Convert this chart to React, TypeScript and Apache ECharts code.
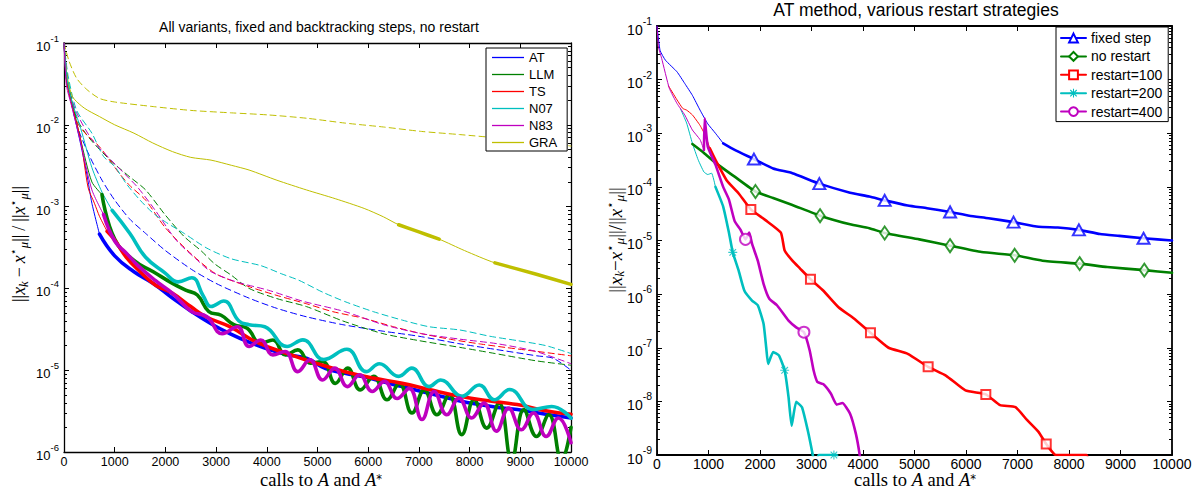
import { useEffect, useRef } from 'react';
import * as echarts from 'echarts';

type Pt = [number, number];

// ---------------- Left panel: all variants ----------------
const leftLegend = ['AT', 'LLM', 'TS', 'N07', 'N83', 'GRA'];
const leftYTicks = [1e-6, 1e-5, 1e-4, 1e-3, 1e-2, 1e-1];
const rightYTicks = [1e-9, 1e-8, 1e-7, 1e-6, 1e-5, 1e-4, 1e-3, 1e-2, 1e-1];

// fixed-step runs (dashed)
const atFix: Pt[] = [[0, 0.1], [80, 0.03], [250, 0.01], [500, 0.0042], [750, 0.0021], [1000, 0.0012], [1300, 7e-4], [1610, 4.7e-4], [2000, 2.9e-4], [2520, 1.7e-4], [3000, 1.15e-4], [3650, 7.6e-5], [4200, 5.7e-5], [4780, 4.5e-5], [5500, 3.6e-5], [6290, 3.0e-5], [7000, 2.6e-5], [7810, 2.1e-5], [8500, 1.8e-5], [9320, 1.5e-5], [9650, 1.4e-5], [10000, 1.0e-5]];
const llmFix: Pt[] = [[0, 0.1], [80, 0.035], [250, 0.012], [450, 0.0075], [700, 0.005], [1000, 0.0033], [1300, 0.0023], [1610, 0.0016], [1990, 8e-4], [2370, 4.3e-4], [2700, 2.9e-4], [2970, 2.0e-4], [3300, 1.45e-4], [3650, 1.0e-4], [4200, 7.5e-5], [4780, 6.0e-5], [5500, 4.0e-5], [6290, 2.8e-5], [7000, 2.3e-5], [7810, 1.9e-5], [8500, 1.6e-5], [9320, 1.3e-5], [10000, 1.15e-5]];
const tsFix: Pt[] = [[0, 0.1], [80, 0.03], [250, 0.011], [450, 0.0075], [700, 0.0054], [1080, 0.0026], [1300, 0.0018], [1610, 0.0012], [2000, 5.5e-4], [2520, 2.6e-4], [3000, 1.5e-4], [3650, 1.05e-4], [4200, 8.2e-5], [4780, 6.5e-5], [5300, 5.2e-5], [5920, 4.3e-5], [6500, 3.4e-5], [7050, 2.8e-5], [7600, 2.4e-5], [8190, 2.1e-5], [8700, 1.9e-5], [9320, 1.7e-5], [10000, 1.5e-5]];
const n07Fix: Pt[] = [[0, 0.1], [80, 0.04], [250, 0.015], [550, 0.0079], [780, 0.0041], [1000, 0.0031], [1230, 0.0019], [1500, 0.0012], [1760, 8.3e-4], [2000, 6.5e-4], [2370, 4.7e-4], [2820, 3.1e-4], [3300, 2.3e-4], [3880, 1.9e-4], [4300, 1.5e-4], [4630, 1.26e-4], [5100, 9e-5], [5540, 6.9e-5], [6100, 5.2e-5], [6670, 4.1e-5], [7200, 3.4e-5], [7810, 3.1e-5], [8400, 2.6e-5], [8940, 2.3e-5], [9500, 2.0e-5], [10000, 1.6e-5]];
const n83Fix: Pt[] = [[0, 0.1], [80, 0.03], [250, 0.014], [550, 0.0066], [930, 0.0037], [1200, 0.0025], [1460, 0.0017], [1800, 9e-4], [2210, 3.9e-4], [2600, 2.3e-4], [2900, 1.6e-4], [3400, 1.2e-4], [4030, 9.5e-5], [4700, 7e-5], [5540, 5.2e-5], [6300, 3.6e-5], [7050, 2.8e-5], [7800, 2.4e-5], [8560, 2.1e-5], [9300, 1.7e-5], [10000, 1.2e-5]];
const graFix: Pt[] = [[0, 0.1], [100, 0.06], [250, 0.037], [450, 0.027], [700, 0.021], [1000, 0.019], [1760, 0.0167], [2500, 0.015], [3300, 0.014], [4030, 0.0132], [4800, 0.012], [5540, 0.0105], [6300, 0.0094], [7050, 0.0083], [7800, 0.0076], [8560, 0.0069], [9300, 0.0062], [10000, 0.0055]];

// backtracking runs (solid)
const atBt: Pt[] = [[0, 0.1], [50, 0.035], [150, 0.018], [300, 0.007], [450, 0.0025], [550, 0.0011], [700, 4.6e-4], [1000, 2.5e-4], [1380, 1.6e-4], [1760, 1.15e-4], [2140, 7.6e-5], [2520, 5.2e-5], [2900, 3.7e-5], [3270, 2.8e-5], [3650, 2.2e-5], [4030, 1.8e-5], [4400, 1.55e-5], [4780, 1.4e-5], [5160, 1.05e-5], [5540, 9.2e-6], [5920, 8.3e-6], [6290, 7.2e-6], [6670, 6.3e-6], [7050, 5.5e-6], [7430, 4.8e-6], [7810, 4.2e-6], [8190, 3.8e-6], [8560, 3.5e-6], [8940, 3.3e-6], [9500, 2.9e-6], [10000, 2.6e-6]];
const llmBt: Pt[] = [[0, 0.1], [50, 0.035], [150, 0.02], [330, 0.0065], [550, 0.002], [750, 1.4e-3], [1000, 4e-4], [1380, 2.2e-4], [1760, 1.6e-4], [2140, 1.15e-4], [2400, 9.5e-5], [2630, 8.3e-5], [2857, 5.2e-5], [3099, 4.7e-5], [3349, 3.6e-5], [3613, 3.25e-5], [3878, 2.13e-5], [4120, 2.34e-5], [4369, 1.54e-5], [4611, 1.77e-5], [4861, 1.22e-5], [5102, 1.28e-5], [5352, 6.9e-6], [5594, 1.06e-5], [5843, 5.75e-6], [6108, 8.4e-6], [6372, 4.35e-6], [6614, 6.9e-6], [6864, 3.0e-6], [7105, 5.75e-6], [7355, 2.85e-6], [7597, 5.0e-6], [7846, 1.63e-6], [8088, 4.35e-6], [8338, 1.96e-6], [8580, 3.96e-6], [8829, 8e-7], [9071, 3.3e-6], [9320, 1.55e-6], [9562, 2.85e-6], [9812, 8e-7], [10000, 2.0e-6]];
const tsBt: Pt[] = [[0, 0.1], [50, 0.035], [150, 0.018], [330, 0.0065], [476, 0.0017], [600, 0.0011], [700, 7.6e-4], [850, 5e-4], [1000, 3.9e-4], [1230, 2.4e-4], [1500, 1.6e-4], [1800, 1.1e-4], [2140, 8.7e-5], [2500, 6.0e-5], [2800, 4.5e-5], [3270, 3.4e-5], [3800, 2.2e-5], [4400, 1.6e-5], [5000, 1.2e-5], [5540, 9.6e-6], [6100, 8.0e-6], [6670, 6.9e-6], [7200, 5.8e-6], [7810, 4.8e-6], [8400, 4.2e-6], [8940, 3.8e-6], [9500, 3.2e-6], [10000, 2.9e-6]];
const n07Bt: Pt[] = [[0, 0.1], [50, 0.04], [150, 0.02], [330, 0.009], [550, 0.003], [750, 0.0015], [950, 9e-4], [1300, 4.7e-4], [1610, 2.4e-4], [1990, 1.55e-4], [2250, 1.2e-4], [2520, 1.35e-4], [2750, 8e-5], [2900, 6e-5], [3150, 7e-5], [3450, 4e-5], [3650, 3.6e-5], [3960, 3.4e-5], [4400, 1.95e-5], [4710, 2.35e-5], [5125, 1.35e-5], [5580, 1.8e-5], [5960, 9.6e-6], [6220, 1.2e-5], [6600, 8.4e-6], [6860, 1.06e-5], [7200, 6.3e-6], [7430, 7.6e-6], [7850, 4.8e-6], [8190, 6.6e-6], [8490, 4.35e-6], [8790, 5.8e-6], [9250, 3.3e-6], [9620, 3.6e-6], [10000, 2.6e-6]];
const n83Bt: Pt[] = [[0, 0.1], [50, 0.03], [150, 0.017], [330, 0.006], [550, 0.0016], [780, 8e-4], [1000, 3.8e-4], [1230, 2.7e-4], [1460, 1.9e-4], [1800, 1.25e-4], [2140, 8.7e-5], [2520, 5.2e-5], [2820, 4.5e-5], [3120, 2.8e-5], [3420, 3.4e-5], [3650, 1.95e-5], [3880, 2.34e-5], [4120, 1.54e-5], [4360, 1.69e-5], [4610, 9.6e-6], [4850, 1.34e-5], [5100, 7.6e-6], [5340, 1.06e-5], [5590, 6.3e-6], [5830, 8.8e-6], [6080, 5.5e-6], [6320, 7.3e-6], [6570, 4.5e-6], [6810, 6.0e-6], [7060, 2.5e-6], [7300, 5.5e-6], [7550, 2.85e-6], [7790, 4.56e-6], [8040, 2.6e-6], [8280, 3.96e-6], [8530, 1.8e-6], [8770, 3.44e-6], [9020, 1.87e-6], [9260, 3.0e-6], [9510, 1.55e-6], [9750, 2.6e-6], [10000, 1.3e-6]];
const graBt: Pt[] = [[0, 0.1], [60, 0.04], [170, 0.022], [400, 0.016], [700, 0.0126], [1000, 0.01], [1380, 0.0079], [1750, 0.006], [2140, 0.0047], [2500, 0.004], [2900, 0.0037], [3300, 0.0032], [3650, 0.0028], [4200, 0.0021], [4780, 0.0016], [5350, 0.00125], [5920, 9.5e-4], [6300, 7.5e-4], [6600, 6.0e-4], [7000, 4.9e-4], [7400, 4.0e-4], [7900, 2.9e-4], [8500, 2.05e-4], [9300, 1.5e-4], [10000, 1.12e-4]];

// where the solid backtracking curves become thick
const leftThickFrom = [700, 750, 850, 950, 780];
const graThickRanges: Pt[] = [[6600, 7400], [8500, 10000]];

// ---------------- Right panel: AT restart strategies ----------------
const rightLegend = ['fixed step', 'no restart', 'restart=100', 'restart=200', 'restart=400'];

const fixedStep: Pt[] = [[0, 0.1], [60, 0.035], [164, 0.023], [388, 0.014], [538, 0.0085], [687, 0.0051], [836, 0.0027], [986, 0.0015], [1135, 0.001], [1285, 6.5e-4], [1508, 4.9e-4], [1882, 3.3e-4], [2255, 2.2e-4], [2629, 1.8e-4], [3152, 1.15e-4], [3749, 7.8e-5], [4122, 6.6e-5], [4421, 5.6e-5], [4869, 4.5e-5], [5242, 4.0e-5], [5691, 3.4e-5], [6064, 2.9e-5], [6437, 2.6e-5], [6923, 2.2e-5], [7408, 1.8e-5], [7782, 1.75e-5], [8192, 1.58e-5], [8603, 1.32e-5], [8977, 1.22e-5], [9447, 1.1e-5], [10000, 1.0e-5]];
const noRestart: Pt[] = [[687, 6.3e-4], [911, 4.3e-4], [1135, 2.8e-4], [1508, 1.55e-4], [1912, 8.2e-5], [2255, 6.2e-5], [2629, 4.6e-5], [3166, 2.9e-5], [3749, 2.0e-5], [4122, 1.7e-5], [4421, 1.38e-5], [5093, 1.05e-5], [5690, 8.0e-6], [6301, 6.1e-6], [6945, 5.3e-6], [7485, 4.2e-6], [8207, 3.7e-6], [8742, 3.2e-6], [9462, 2.8e-6], [10000, 2.5e-6]];
const restart100: Pt[] = [[224, 7.6e-3], [388, 4.2e-3], [500, 2.9e-3], [575, 2.7e-3], [687, 2.2e-3], [836, 1.4e-3], [948, 8.7e-4], [1023, 5.3e-4], [1135, 3.2e-4], [1359, 1.3e-4], [1583, 7.6e-5], [1822, 3.8e-5], [2106, 2.4e-5], [2405, 1.4e-5], [2479, 6.5e-6], [2629, 4.2e-6], [2778, 3.0e-6], [2980, 1.9e-6], [3226, 1.17e-6], [3525, 5.7e-7], [3824, 3.5e-7], [4145, 1.9e-7], [4496, 1.0e-7], [4869, 7.7e-8], [5265, 4.4e-8], [5616, 3.0e-8], [5989, 1.6e-8], [6385, 1.35e-8], [6661, 8.5e-9], [6960, 7.8e-9], [7184, 4.5e-9], [7408, 2.7e-9], [7558, 1.6e-9], [7744, 1e-9], [8342, 1e-9], [8400, 4e-10]];
const restart200: Pt[] = [[460, 2.8e-3], [575, 1.55e-3], [687, 6.5e-4], [799, 3.2e-4], [911, 1.9e-4], [986, 1.7e-4], [1060, 1.8e-4], [1135, 1.0e-4], [1285, 4.3e-5], [1397, 1.4e-5], [1471, 6.0e-6], [1583, 2.8e-6], [1695, 1.17e-6], [1845, 7.6e-7], [1957, 6.2e-7], [2069, 2.8e-7], [2121, 1.0e-7], [2158, 5.0e-8], [2255, 8.3e-8], [2367, 7.2e-8], [2479, 3.8e-8], [2554, 1.2e-8], [2614, 3.5e-9], [2703, 9.8e-9], [2815, 7.8e-9], [2927, 2.9e-9], [3025, 1e-9], [3080, 5e-10], [3136, 1e-9], [3490, 1e-9], [3540, 4e-10]];
const restart400: Pt[] = [[0, 0.1], [30, 0.04], [90, 0.025], [239, 6.9e-3], [388, 3.6e-3], [538, 2.2e-3], [687, 1.15e-3], [836, 7.6e-4], [911, 4.9e-4], [926, 1.9e-3], [986, 5.6e-4], [1135, 2.6e-4], [1285, 1.0e-4], [1397, 5.8e-5], [1508, 2.3e-5], [1620, 1.6e-5], [1718, 1.05e-5], [1790, 1.4e-5], [1845, 8.7e-6], [1957, 4.2e-6], [2069, 1.56e-6], [2181, 8.2e-7], [2330, 6.2e-7], [2554, 3.2e-7], [2703, 2.4e-7], [2853, 1.95e-7], [2965, 8.9e-8], [3040, 3.8e-8], [3114, 2.3e-8], [3226, 2.1e-8], [3375, 1.4e-8], [3488, 8.7e-9], [3600, 9.3e-9], [3749, 5.9e-9], [3861, 2.5e-9], [3936, 1e-9], [3970, 5e-10]];
const rightThickFrom = [1285, 0, 1023, 1135, 911];

// marker positions
const fixedStepMarks: Pt[] = [[1882, 3.3e-4], [3152, 1.15e-4], [4421, 5.6e-5], [5691, 3.4e-5], [6923, 2.2e-5], [8192, 1.58e-5], [9447, 1.1e-5]];
const noRestartMarks: Pt[] = [[1912, 8.2e-5], [3166, 2.9e-5], [4421, 1.38e-5], [5690, 8.0e-6], [6945, 5.3e-6], [8207, 3.7e-6], [9462, 2.8e-6]];
const restart100Marks: Pt[] = [[1822, 3.8e-5], [2980, 1.9e-6], [4145, 1.9e-7], [5265, 4.4e-8], [6385, 1.35e-8], [7558, 1.6e-9]];
const restart200Marks: Pt[] = [[1471, 6.0e-6], [2479, 3.8e-8], [3435, 1e-9]];
const restart400Marks: Pt[] = [[1718, 1.05e-5], [2853, 1.95e-7]];

const LC = ['#0000ff', '#008000', '#ff0000', '#00bfbf', '#bf00bf', '#bfbf00'];
const RC = ['#0000ff', '#008000', '#ff0000', '#00bfbf', '#bf00bf'];

const ASTERISK = 'path://M4.4 0 L5.6 0 L5.6 10 L4.4 10 Z M0 4.4 L10 4.4 L10 5.6 L0 5.6 Z M0.9 1.8 L1.8 0.9 L9.1 8.2 L8.2 9.1 Z M8.2 0.9 L9.1 1.8 L1.8 9.1 L0.9 8.2 Z';
const RSYM = ['emptyTriangle', 'emptyDiamond', 'emptyRect', ASTERISK, 'emptyCircle'];
const RSYMSIZE: any[] = [[12, 11], [9, 13], [9, 9], [9, 9], [11, 11]];

const SANS = 'Liberation Sans, Arial, Helvetica, sans-serif';
const SERIF = 'Liberation Serif, DejaVu Serif, Times New Roman, serif';

function line(name: string, data: Pt[], color: string, width: number, xi: number, yi: number, o: any = {}) {
  return {
    type: 'line', name, data, xAxisIndex: xi, yAxisIndex: yi,
    showSymbol: false, symbol: o.symbol || 'none', symbolSize: o.symbolSize || 8,
    smooth: o.smooth ?? 0.3, clip: true, silent: true,
    lineStyle: { color, width, type: o.dash ? [6, 4] : 'solid', cap: 'round', join: 'round' },
    itemStyle: { color },
    emphasis: { disabled: true },
    z: o.z ?? 2,
  };
}

function minorOf(majors: number[]) {
  const out: number[] = [];
  for (let i = 0; i < majors.length - 1; i++) for (let m = 2; m <= 9; m++) out.push(majors[i] * m);
  return out;
}

function logLabel(v: number) {
  const e = Math.round(Math.log10(v));
  return '{b|10}{s|' + e + '}';
}

function buildOption() {
  const gL = { left: 64, top: 43, width: 507, height: 409 };
  const gR = { left: 657, top: 26, width: 515, height: 429 };

  const xAx = (gi: number, pos: string, fs: number, lw: number, margin: number) => ({
    type: 'value', gridIndex: gi, position: pos, min: 0, max: 10000, interval: 1000,
    axisLine: { show: true, onZero: false, lineStyle: { color: '#000', width: lw } },
    axisTick: { show: true, inside: true, length: 5, lineStyle: { color: '#000', width: 1 } },
    axisLabel: { show: pos === 'bottom', color: '#000', fontSize: fs, lineHeight: fs, fontFamily: SANS, margin, formatter: (v: number) => String(v) },
    splitLine: { show: false },
  });
  const yAx = (gi: number, pos: string, majors: number[], fs: number, lw: number, minor: boolean) => ({
    type: 'log', logBase: 10, gridIndex: gi, position: pos, min: majors[0], max: majors[majors.length - 1],
    axisLine: { show: !minor, onZero: false, lineStyle: { color: '#000', width: lw } },
    axisTick: { show: true, inside: true, length: minor ? 3 : 5, customValues: minor ? minorOf(majors) : majors, lineStyle: { color: '#000', width: 1 } },
    axisLabel: {
      show: !minor && pos === 'left', customValues: majors, formatter: logLabel, margin: 5,
      fontSize: fs, fontFamily: SANS, color: '#000',
      rich: {
        b: { fontSize: fs, fontFamily: SANS, color: '#000', verticalAlign: 'bottom', lineHeight: fs + 7 },
        s: { fontSize: fs - 3.5, fontFamily: SANS, color: '#000', verticalAlign: 'top', lineHeight: fs - 3 },
      },
    },
    splitLine: { show: false },
  });

  const xAxis = [xAx(0, 'bottom', 12.5, 1.3, 4), xAx(0, 'top', 12.5, 1.3, 4), xAx(1, 'bottom', 14, 1.8, 2), xAx(1, 'top', 14, 1.8, 2)];
  const yAxis = [
    yAx(0, 'left', leftYTicks, 13, 1.3, false), yAx(0, 'right', leftYTicks, 13, 1.3, false),
    yAx(0, 'left', leftYTicks, 13, 1.3, true), yAx(0, 'right', leftYTicks, 13, 1.3, true),
    yAx(1, 'left', rightYTicks, 14, 1.8, false), yAx(1, 'right', rightYTicks, 14, 1.8, false),
    yAx(1, 'left', rightYTicks, 14, 1.8, true), yAx(1, 'right', rightYTicks, 14, 1.8, true),
  ];

  const series: any[] = [];
  const fix = [atFix, llmFix, tsFix, n07Fix, n83Fix, graFix];
  fix.forEach((d, i) => series.push(line(leftLegend[i] + ' fixed', d, LC[i], 1, 0, 0, { dash: true, smooth: 0.25, z: 2 })));
  series.push(line('GRA', graBt, LC[5], 1, 0, 0, { smooth: 0.25, z: 3 }));
  graThickRanges.forEach((r, k) => series.push(line('GRA thick ' + k, graBt.filter(p => p[0] >= r[0] && p[0] <= r[1]), LC[5], 3.5, 0, 0, { smooth: 0.25, z: 3 })));
  const bt = [atBt, llmBt, tsBt, n07Bt, n83Bt];
  bt.forEach((d, i) => series.push(line(leftLegend[i], d.filter(p => p[0] <= leftThickFrom[i]), LC[i], 1, 0, 0, { smooth: 0.25, z: 4 })));
  bt.forEach((d, i) => series.push(line(leftLegend[i] + ' thick', d.filter(p => p[0] >= leftThickFrom[i]), LC[i], 3.6, 0, 0, { smooth: 0.45, z: 5 + i })));

  const rdata = [fixedStep, noRestart, restart100, restart200, restart400];
  const rmarks = [fixedStepMarks, noRestartMarks, restart100Marks, restart200Marks, restart400Marks];
  rdata.forEach((d, i) => {
    const thin = d.filter(p => p[0] <= rightThickFrom[i]);
    if (thin.length > 1) series.push(line(rightLegend[i] + ' start', thin, RC[i], 1, 2, 4, { smooth: 0.15, z: 3 }));
  });
  rdata.forEach((d, i) => {
    series.push(line(rightLegend[i], d.filter(p => p[0] >= rightThickFrom[i]), RC[i], 2.6, 2, 4, { smooth: 0.15, z: 5 + i, symbol: RSYM[i], symbolSize: RSYMSIZE[i] }));
  });
  rmarks.forEach((d, i) => {
    series.push({
      type: 'scatter', name: rightLegend[i] + ' marks', data: d, xAxisIndex: 2, yAxisIndex: 4,
      symbol: RSYM[i], symbolSize: RSYMSIZE[i], itemStyle: { color: RC[i] }, silent: true, clip: false, z: 12,
      emphasis: { disabled: true },
    });
  });

  const legendBase = {
    orient: 'vertical', selectedMode: false, borderColor: '#000', borderWidth: 1, backgroundColor: '#fff',
    borderRadius: 0, inactiveColor: '#000',
  };

  const mathRich = (fs: number, base: number, gap: number) => ({
    n: { fontFamily: SERIF, fontSize: fs, fill: '#000', lineHeight: base },
    i: { fontFamily: SERIF, fontStyle: 'italic', fontSize: fs, fill: '#000', lineHeight: base },
    sp: { fontFamily: SERIF, fontSize: fs, fill: '#000', lineHeight: base, width: gap },
    sub: { fontFamily: SERIF, fontStyle: 'italic', fontSize: fs * 0.7, fill: '#000', verticalAlign: 'bottom', lineHeight: fs * 0.7 },
    sup: { fontFamily: 'DejaVu Sans, sans-serif', fontSize: fs * 0.62, fill: '#000', verticalAlign: 'top', lineHeight: fs * 0.6 },
  });
  const yLabelLeft = '{n|||}{i|x}{sub|k}{sp| }{n|−}{sp| }{i|x}{sup|⋆}{sub|μ}{n|||}{sp| }{n|/}{sp| }{n|||}{i|x}{sup|⋆}{sub|μ}{n|||}';
  const yLabelRight = '{n|||}{i|x}{sub|k}{n|−}{i|x}{sup|⋆}{sub|μ}{n|||/||}{i|x}{sup|⋆}{sub|μ}{n|||}';
  const xLabelText = '{n|calls to }{i|A}{n| and }{i|A}{sup|*}';

  const graphic: any[] = [
    { type: 'text', x: 319, y: 27, silent: true, style: { text: 'All variants, fixed and backtracking steps, no restart', fontFamily: SANS, fontSize: 14, fill: '#000', align: 'center', verticalAlign: 'middle' } },
    { type: 'text', x: 916, y: 10, silent: true, style: { text: 'AT method, various restart strategies', fontFamily: SANS, fontSize: 17.5, fill: '#000', align: 'center', verticalAlign: 'middle' } },
    { type: 'text', x: 321, y: 480, silent: true, style: { text: xLabelText, align: 'center', verticalAlign: 'middle', rich: mathRich(18.5, 14, 0) } },
    { type: 'text', x: 915, y: 480, silent: true, style: { text: xLabelText, align: 'center', verticalAlign: 'middle', rich: mathRich(18.5, 14, 0) } },
    { type: 'text', x: 19, y: 244, rotation: Math.PI / 2, silent: true, style: { text: yLabelLeft, align: 'center', verticalAlign: 'middle', rich: mathRich(18, 22, 4) } },
    { type: 'text', x: 615, y: 240, rotation: Math.PI / 2, silent: true, style: { text: yLabelRight, align: 'center', verticalAlign: 'middle', rich: mathRich(19, 22, 0) } },
  ];

  return {
    animation: false,
    backgroundColor: '#fff',
    grid: [gL, gR],
    xAxis, yAxis, series, graphic,
    legend: [
      {
        ...legendBase, data: leftLegend, left: 486, top: 48, icon: 'rect', itemWidth: 32, itemHeight: 1.3, itemGap: 4,
        padding: [3, 10, 2, 6], textStyle: { fontSize: 13, fontFamily: SANS, color: '#000', lineHeight: 13 },
      },
      {
        ...legendBase, data: rightLegend, left: 1056, top: 27, itemWidth: 25, itemHeight: 11, itemGap: 4.4,
        padding: [4, 6, 3, 4], textStyle: { fontSize: 14, fontFamily: SANS, color: '#000', lineHeight: 14 },
      },
    ],
  };
}

export default function App() {
  const ref = useRef<HTMLDivElement>(null);
  useEffect(() => {
    if (!ref.current) return;
    const chart = echarts.init(ref.current, undefined, { renderer: 'svg' });
    chart.setOption(buildOption() as any);
    return () => chart.dispose();
  }, []);
  return <div ref={ref} style={{ position: 'fixed', left: 0, top: 0, width: 1199, height: 490, background: '#fff' }} />;
}
